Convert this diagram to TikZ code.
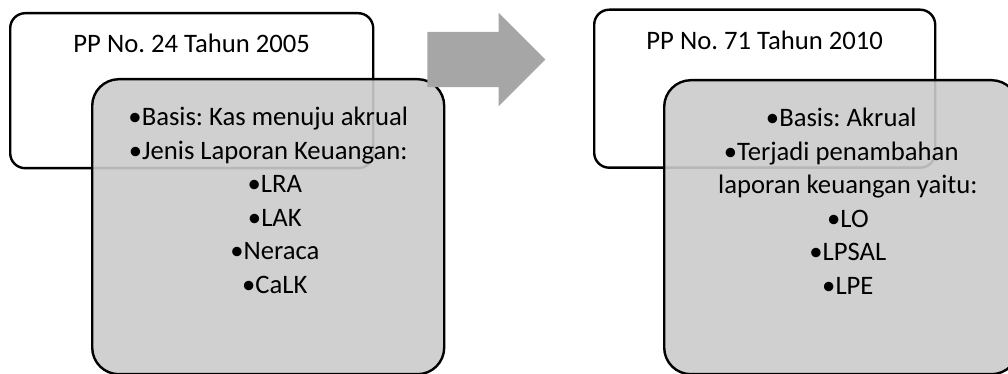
\documentclass[tikz,border=0pt]{standalone}
\usepackage{fontspec}
\setmainfont{Carlito}
\usepackage{tikz}
\usetikzlibrary{shapes.arrows,positioning,calc}
\usepackage{xcolor}
\definecolor{boxgray}{RGB}{203,203,203}
\definecolor{arrowgray}{RGB}{166,166,166}
\newcommand{\subshift}{\hspace*{10pt}}
\frenchspacing

\begin{document}
\begin{tikzpicture}[x=0.75pt,y=0.75pt,
    titlebox/.style={draw=black,line width=1.8pt,fill=white,rounded corners=11.25pt,anchor=north west,inner sep=0pt},
    listbox/.style={draw=black,line width=1.8pt,fill=boxgray,fill opacity=0.9,draw opacity=1,rounded corners=20pt,anchor=north west,inner sep=0pt},
    boxtext/.style={inner sep=0pt,align=center,font=\fontsize{20pt}{25.1pt}\selectfont}]
  \useasboundingbox (0,0) rectangle (1008,374);

  % left: PP 24/2005
  \node[titlebox,minimum width=272.25pt,minimum height=116.25pt] (oldbox) at (9,362) {};
  \node[boxtext,anchor=base] (oldtitle) at ($(oldbox.north)+(0,-41)$) {PP No. 24 Tahun 2005};
  \node[listbox,minimum width=264pt,minimum height=221.25pt] (oldlist) at (91,296) {};
  \node[boxtext,anchor=north] (oldtext) at ($(oldlist.north)+(0,-29)$) {%
    •Basis: Kas menuju akrual\\
    •Jenis Laporan Keuangan:\\
    \subshift•LRA\\
    \subshift•LAK\\
    \subshift•Neraca\\
    \subshift•CaLK};

  % right: PP 71/2010
  \node[titlebox,minimum width=255.75pt,minimum height=118.5pt] (newbox) at (593,365.5) {};
  \node[boxtext,anchor=base] (newtitle) at ($(newbox.north)+(0,-41.5)$) {PP No. 71 Tahun 2010};
  \node[listbox,minimum width=265.5pt,minimum height=220.5pt] (newlist) at (663,295) {};
  \node[boxtext,anchor=north] (newtext) at ($(newlist.north)+(0,-29)$) {%
    •Basis: Akrual\\
    •Terjadi penambahan\\
    \subshift laporan keuangan yaitu:\\
    \subshift•LO\\
    \subshift•LPSAL\\
    \subshift•LPE};

  % block arrow between the two
  \node[single arrow,fill=arrowgray,inner xsep=0pt,inner ysep=20.6pt,minimum height=88.5pt,
        single arrow head extend=14.25pt,anchor=tail] (shift) at (427,314.5) {};
\end{tikzpicture}
\end{document}
